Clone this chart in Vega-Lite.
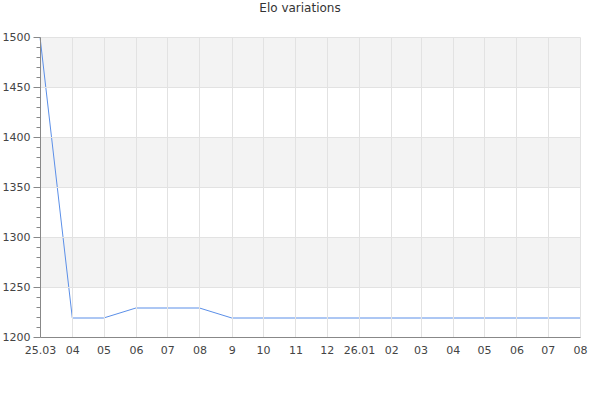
{
  "$schema": "https://vega.github.io/schema/vega-lite/v6.json",
  "width": 540,
  "height": 300,
  "autosize": "none",
  "padding": {"left": 40, "top": 37, "right": 20, "bottom": 63},
  "background": "white",
  "config": {
    "view": {"stroke": null},
    "font": "DejaVu Sans",
    "axis": {
      "labelFont": "DejaVu Sans",
      "labelFontSize": 11,
      "labelColor": "#444444",
      "domainColor": "#888888",
      "tickColor": "#888888",
      "gridColor": "#e2e2e2",
      "title": null
    }
  },
  "title": {
    "text": "Elo variations",
    "font": "DejaVu Sans",
    "fontSize": 12,
    "fontWeight": "normal",
    "color": "#333333",
    "anchor": "middle",
    "offset": 16,
    "dx": -10
  },
  "layer": [
    {
      "data": {"values": [
        {"lo": 1250, "hi": 1300},
        {"lo": 1350, "hi": 1400},
        {"lo": 1450, "hi": 1500}
      ]},
      "mark": {"type": "rect", "color": "#f3f3f3"},
      "encoding": {
        "y": {
          "field": "lo",
          "type": "quantitative",
          "scale": {"domain": [1200, 1500], "nice": false, "zero": false},
          "axis": {
            "values": [1200, 1210, 1220, 1230, 1240, 1250, 1260, 1270, 1280, 1290, 1300, 1310, 1320, 1330, 1340, 1350, 1360, 1370, 1380, 1390, 1400, 1410, 1420, 1430, 1440, 1450, 1460, 1470, 1480, 1490, 1500],
            "format": "d",
            "zindex": 1,
            "labelOverlap": false,
            "labelPadding": 3,
            "labelExpr": "datum.value % 50 == 0 ? datum.label : ''",
            "tickSize": {"condition": {"test": "datum.value % 50 == 0", "value": 7}, "value": 4},
            "gridOpacity": {"condition": {"test": "datum.value % 50 == 0", "value": 1}, "value": 0}
          }
        },
        "y2": {"field": "hi"}
      }
    },
    {
      "data": {"values": [
        {"date": "2025-03-01", "elo": 1500},
        {"date": "2025-04-01", "elo": 1219},
        {"date": "2025-05-01", "elo": 1219},
        {"date": "2025-06-01", "elo": 1229},
        {"date": "2025-07-01", "elo": 1229},
        {"date": "2025-08-01", "elo": 1229},
        {"date": "2025-09-01", "elo": 1219},
        {"date": "2025-10-01", "elo": 1219},
        {"date": "2025-11-01", "elo": 1219},
        {"date": "2025-12-01", "elo": 1219},
        {"date": "2026-01-01", "elo": 1219},
        {"date": "2026-02-01", "elo": 1219},
        {"date": "2026-03-01", "elo": 1219},
        {"date": "2026-04-01", "elo": 1219},
        {"date": "2026-05-01", "elo": 1219},
        {"date": "2026-06-01", "elo": 1219},
        {"date": "2026-07-01", "elo": 1219},
        {"date": "2026-08-01", "elo": 1219}
      ]},
      "mark": {"type": "line", "color": "#5b8fe8", "strokeWidth": 1, "zindex": 2},
      "encoding": {
        "x": {
          "field": "date",
          "type": "temporal",
          "scale": {"type": "utc", "nice": false},
          "axis": {
            "tickCount": {"interval": "month", "step": 1},
            "zindex": 1,
            "ticks": false,
            "labelPadding": 7,
            "labelOverlap": false,
            "labelFlush": false,
            "grid": true,
            "labelExpr": "datum.index == 0 || utcmonth(datum.value) == 0 ? utcFormat(datum.value, '%y.%m') : utcmonth(datum.value) == 8 ? '9' : utcFormat(datum.value, '%m')"
          }
        },
        "y": {
          "field": "elo",
          "type": "quantitative",
          "scale": {"domain": [1200, 1500], "nice": false, "zero": false},
          "axis": {
            "values": [1200, 1210, 1220, 1230, 1240, 1250, 1260, 1270, 1280, 1290, 1300, 1310, 1320, 1330, 1340, 1350, 1360, 1370, 1380, 1390, 1400, 1410, 1420, 1430, 1440, 1450, 1460, 1470, 1480, 1490, 1500],
            "format": "d",
            "zindex": 1,
            "labelOverlap": false,
            "labelPadding": 3,
            "labelExpr": "datum.value % 50 == 0 ? datum.label : ''",
            "tickSize": {"condition": {"test": "datum.value % 50 == 0", "value": 7}, "value": 4},
            "gridOpacity": {"condition": {"test": "datum.value % 50 == 0", "value": 1}, "value": 0}
          }
        }
      }
    }
  ]
}
